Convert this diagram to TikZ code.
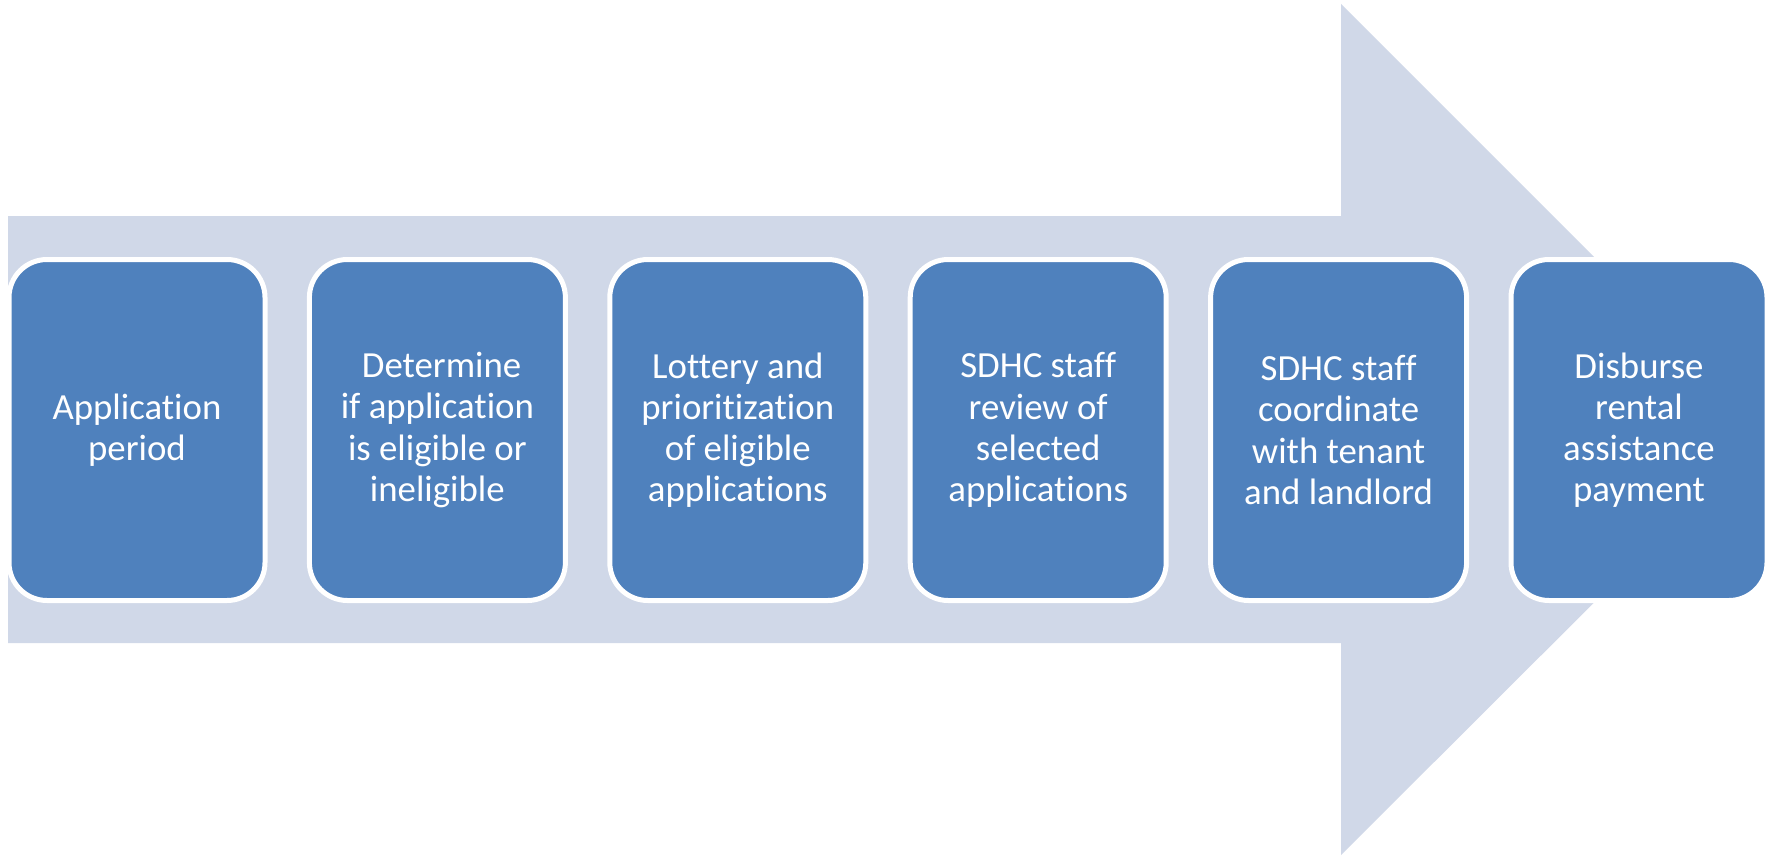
\documentclass[tikz,border=0pt]{standalone}
\usepackage{fontspec}
\setmainfont[Ligatures=NoCommon]{Carlito}
\definecolor{arrowfill}{HTML}{D0D8E8}
\definecolor{boxblue}{HTML}{4F81BD}
\tikzset{
  stepbox/.style={draw=white, line width=5pt, fill=boxblue, rounded corners=38pt,
    minimum width=256pt, minimum height=341pt, inner sep=0pt, text=white,
    align=center, font=\fontsize{36.8}{41.2}\selectfont},
  bigarrow/.style={fill=arrowfill, draw=none}
}
\begin{document}
\begin{tikzpicture}[x=1pt,y=-1pt]
\useasboundingbox (0,0) rectangle (1771,856);
\fill[white] (0,0) rectangle (1771,856);
\path[bigarrow] (8,216) -- (1341,216) -- (1341,4) -- (1767,430) -- (1341,855) -- (1341,643) -- (8,643) -- cycle;
\node[stepbox] (b1) at (137,430) {Application\\period};
\node[stepbox] (b2) at (437.4,430) {\mbox{}\ Determine\\if application\\is eligible or\\ineligible};
\node[stepbox] (b3) at (737.8,430) {Lottery and\\prioritization\\of eligible\\applications};
\node[stepbox] (b4) at (1038.2,430) {SDHC staff\\review of\\selected\\applications};
\node[stepbox] (b5) at (1338.6,430) {SDHC staff\\coordinate\\with tenant\\and landlord};
\node[stepbox] (b6) at (1639,430) {Disburse\\rental\\assistance\\payment};
\end{tikzpicture}
\end{document}
